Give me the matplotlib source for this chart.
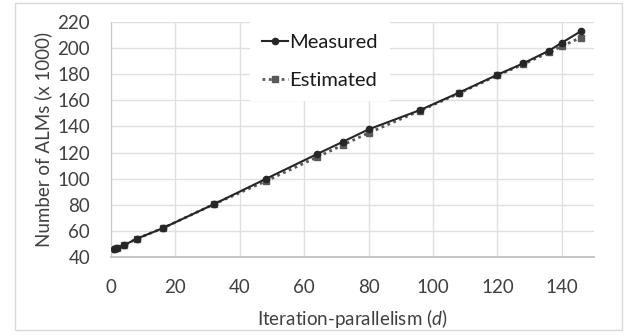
import numpy as np
import matplotlib
matplotlib.use('Agg')
import matplotlib.pyplot as plt
from matplotlib.patches import Rectangle

plt.rcParams['font.family'] = ['Lato', 'DejaVu Sans']
plt.rcParams['mathtext.fontset'] = 'custom'
plt.rcParams['mathtext.it'] = 'Lato:italic'
plt.rcParams['mathtext.rm'] = 'Lato'

# iteration-parallelism d
d = [1, 2, 4, 8, 16, 32, 48, 64, 72, 80, 96, 108, 120, 128, 136, 140, 146]
# ALMs (x 1000)
measured = [46, 47, 49, 54, 62, 80.5, 99.7, 118.8, 128.2, 137.7, 152.5, 165.7,
            179.5, 188.2, 197.9, 204, 212.9]
estimated = [46, 47, 49, 54, 62, 80.5, 98, 116.5, 125.7, 135, 152, 165.2,
             179, 187.5, 196.6, 201.4, 208]

xticks = [0, 20, 40, 60, 80, 100, 120, 140]
yticks = [40, 60, 80, 100, 120, 140, 160, 180, 200, 220]

txt = '#404040'
fig, ax = plt.subplots(figsize=(6.38, 3.36), dpi=100)
fig.subplots_adjust(left=0.174, right=0.931, top=0.935, bottom=0.235)

ax.plot(d, measured, color='#262626', lw=1.5, marker='o', ms=4.5,
        label='Measured', zorder=3)
ax.plot(d, estimated, color='#595959', lw=2, ls=(0, (1, 1.3)), marker='s', ms=3.8,
        label='Estimated', zorder=2)

ax.set_xlim(0, 150)
ax.set_ylim(40, 220)
ax.set_xticks(xticks)
ax.set_yticks(yticks)
ax.grid(True, color='#e0e0e0', lw=1)
ax.set_axisbelow(True)
for s in ['top', 'right']:
    ax.spines[s].set_visible(False)
ax.spines['left'].set_color('#c8c8c8')
ax.spines['bottom'].set_color('#c0c0c0')
ax.spines['bottom'].set_linewidth(1.3)
ax.tick_params(length=0, labelsize=13.5, colors=txt)
ax.tick_params(axis='x', pad=16)
ax.tick_params(axis='y', pad=15)

ax.set_xlabel('Iteration-parallelism ($\\mathit{d}$)', fontsize=13.5, color=txt, labelpad=8)
ax.set_ylabel('Number of ALMs (x 1000)', fontsize=13.5, color=txt, labelpad=4)

leg = ax.legend(loc='upper center', bbox_to_anchor=(0.433, 1.0), borderaxespad=0,
                fontsize=14.5, handlelength=1.3, handletextpad=0.05,
                labelspacing=1.05, borderpad=0.6, frameon=True, fancybox=False)
leg.get_frame().set_facecolor('white')
leg.get_frame().set_edgecolor('none')
leg.get_frame().set_alpha(1)
for t in leg.get_texts():
    t.set_color('#1a1a1a')

fig.patches.append(Rectangle((0.0235, 0.018), 0.951, 0.973, transform=fig.transFigure,
                             fill=False, edgecolor='#d9d9d9', lw=1))

plt.savefig('out.png', dpi=100)
